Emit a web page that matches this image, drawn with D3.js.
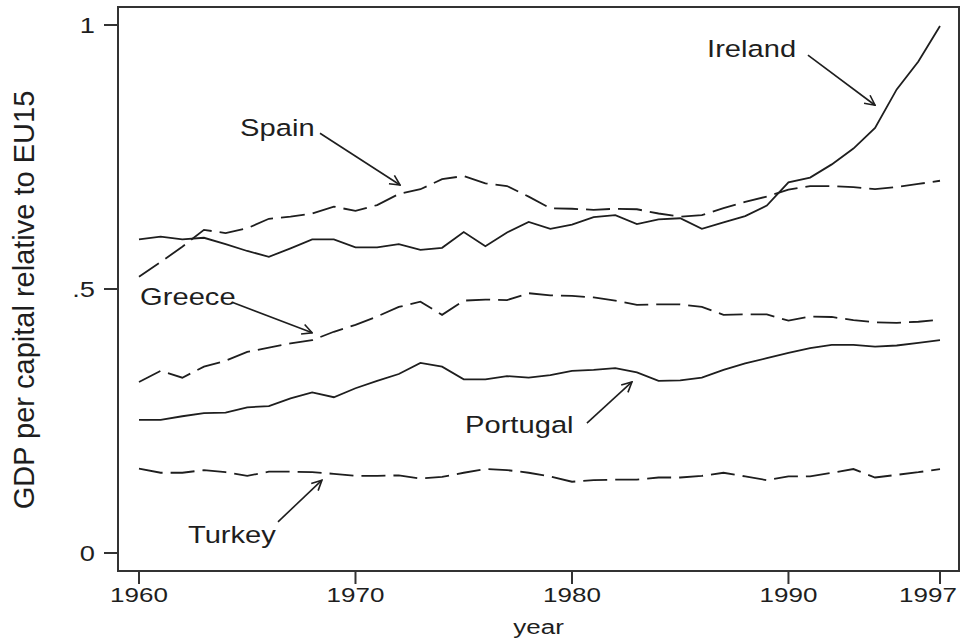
<!DOCTYPE html>
<html>
<head>
<meta charset="utf-8">
<script src="https://cdn.jsdelivr.net/npm/d3@7"></script>
<style>
  body { margin: 0; background: #fff; }
  svg { display: block; font-family: "Liberation Sans", Arial, sans-serif; }
</style>
</head>
<body>
<svg id="chart" width="965" height="640"></svg>
<script>
// years 1960..1997
const years = d3.range(1960, 1998);

const ireland = [0.594, 0.599, 0.594, 0.597, 0.585, 0.572, 0.561, 0.577, 0.594, 0.594,
  0.579, 0.579, 0.585, 0.574, 0.578, 0.608, 0.581, 0.607, 0.627, 0.614,
  0.622, 0.636, 0.640, 0.623, 0.632, 0.634, 0.614, 0.626, 0.638, 0.658,
  0.702, 0.711, 0.736, 0.766, 0.805, 0.878, 0.931, 0.998];

const spain = [0.523, 0.551, 0.580, 0.612, 0.606, 0.615, 0.633, 0.637, 0.643, 0.656,
  0.648, 0.659, 0.680, 0.689, 0.708, 0.714, 0.700, 0.695, 0.675, 0.653,
  0.652, 0.650, 0.652, 0.651, 0.643, 0.637, 0.640, 0.653, 0.665, 0.675,
  0.688, 0.695, 0.695, 0.693, 0.689, 0.693, 0.699, 0.705];

const greece = [0.324, 0.345, 0.332, 0.353, 0.364, 0.381, 0.389, 0.397, 0.403, 0.419,
  0.432, 0.448, 0.466, 0.476, 0.451, 0.478, 0.480, 0.479, 0.492, 0.488,
  0.487, 0.484, 0.478, 0.470, 0.471, 0.471, 0.466, 0.451, 0.452, 0.452,
  0.440, 0.448, 0.447, 0.441, 0.437, 0.436, 0.438, 0.442];

const portugal = [0.252, 0.252, 0.259, 0.265, 0.266, 0.276, 0.278, 0.293, 0.304, 0.295,
  0.312, 0.326, 0.339, 0.360, 0.353, 0.329, 0.329, 0.335, 0.332, 0.337,
  0.345, 0.347, 0.350, 0.342, 0.326, 0.327, 0.332, 0.347, 0.359, 0.369,
  0.379, 0.388, 0.394, 0.394, 0.391, 0.393, 0.398, 0.403];

const turkey = [0.160, 0.152, 0.152, 0.157, 0.153, 0.146, 0.154, 0.154, 0.153, 0.150,
  0.146, 0.146, 0.147, 0.141, 0.144, 0.152, 0.159, 0.157, 0.152, 0.145,
  0.135, 0.138, 0.139, 0.139, 0.143, 0.143, 0.146, 0.152, 0.145, 0.138,
  0.145, 0.145, 0.152, 0.159, 0.143, 0.148, 0.153, 0.159];

const xTicks = [1960, 1970, 1980, 1990, 1997];
const yTicks = [0, 0.5, 1];
const yTickLabels = ['0', '.5', '1'];

// label text position, arrow start, arrow tip (data units)
const labelNames = ['Ireland', 'Spain', 'Greece', 'Turkey', 'Portugal'];
const labelPos = [[1986.24, 0.939], [1964.67, 0.790], [1960.05, 0.470], [1962.26, 0.019], [1975.06, 0.227]];
const arrowFrom = [[1990.9, 0.943], [1968.36, 0.795], [1964.3, 0.475], [1966.42, 0.059], [1980.69, 0.246]];
const arrowTo = [[1994.0, 0.848], [1972.06, 0.697], [1968.0, 0.417], [1968.45, 0.138], [1982.77, 0.324]];

const seriesList = [
  { values: ireland, dashed: false },
  { values: spain, dashed: true },
  { values: greece, dashed: true },
  { values: portugal, dashed: false },
  { values: turkey, dashed: true }
];

const svg = d3.select('#chart');
const frame = { left: 118, right: 959, top: 7, bottom: 571 };
const stretch = 1.24;
const ink = '#1e1e1e';

const x = d3.scaleLinear().domain([1960, 1997]).range([139, 940]);
const y = d3.scaleLinear().domain([0, 1]).range([553, 25]);

// frame
svg.append('rect')
  .attr('x', frame.left).attr('y', frame.top)
  .attr('width', frame.right - frame.left)
  .attr('height', frame.bottom - frame.top)
  .attr('fill', 'none').attr('stroke', '#333').attr('stroke-width', 2);

// y ticks
const yAxis = svg.append('g');
yTicks.forEach((t, i) => {
  yAxis.append('line')
    .attr('x1', frame.left - 14).attr('x2', frame.left)
    .attr('y1', y(t)).attr('y2', y(t))
    .attr('stroke', '#333').attr('stroke-width', 2);
  yAxis.append('text')
    .attr('transform', `translate(95,${y(t) + 8}) scale(${stretch},1)`)
    .attr('text-anchor', 'end')
    .attr('font-size', 22)
    .attr('fill', ink)
    .text(yTickLabels[i]);
});

// x ticks
const xAxis = svg.append('g');
xTicks.forEach((t, i) => {
  xAxis.append('line')
    .attr('x1', x(t)).attr('x2', x(t))
    .attr('y1', frame.bottom).attr('y2', frame.bottom + 13)
    .attr('stroke', '#333').attr('stroke-width', 2);
  const last = i === xTicks.length - 1;
  xAxis.append('text')
    .attr('transform', `translate(${last ? frame.right - 2 : x(t)},602) scale(${stretch},1)`)
    .attr('text-anchor', last ? 'end' : 'middle')
    .attr('font-size', 21)
    .attr('fill', ink)
    .text(t);
});

// axis titles
svg.append('text')
  .attr('transform', `translate(${(frame.left + frame.right) / 2},634) scale(${stretch},1)`)
  .attr('text-anchor', 'middle')
  .attr('font-size', 21)
  .attr('fill', ink)
  .text('year');

svg.append('text')
  .attr('transform', `translate(34,300) rotate(-90)`)
  .attr('text-anchor', 'middle')
  .attr('font-size', 29)
  .attr('fill', ink)
  .text('GDP per capital relative to EU15');

// series lines
const line = d3.line()
  .x((d, i) => x(years[i]))
  .y(d => y(d));

svg.append('g').selectAll('path')
  .data(seriesList)
  .enter().append('path')
  .attr('d', d => line(d.values))
  .attr('fill', 'none')
  .attr('stroke', ink)
  .attr('stroke-width', 1.8)
  .attr('stroke-dasharray', d => d.dashed ? '24,8' : null);

// arrow head
svg.append('defs').append('marker')
  .attr('id', 'head')
  .attr('viewBox', '0 0 12 12')
  .attr('refX', 11).attr('refY', 6)
  .attr('markerWidth', 12).attr('markerHeight', 12)
  .attr('markerUnits', 'userSpaceOnUse')
  .attr('orient', 'auto')
  .append('path')
  .attr('d', 'M1,1 L11,6 L1,11')
  .attr('fill', 'none')
  .attr('stroke', ink)
  .attr('stroke-width', 1.6);

// annotations
const notes = svg.append('g');
labelNames.forEach((name, i) => {
  notes.append('text')
    .attr('transform', `translate(${x(labelPos[i][0])},${y(labelPos[i][1])}) scale(${stretch},1)`)
    .attr('font-size', 23.5)
    .attr('fill', ink)
    .text(name);
  notes.append('line')
    .attr('x1', x(arrowFrom[i][0])).attr('y1', y(arrowFrom[i][1]))
    .attr('x2', x(arrowTo[i][0])).attr('y2', y(arrowTo[i][1]))
    .attr('stroke', ink)
    .attr('stroke-width', 1.6)
    .attr('marker-end', 'url(#head)');
});
</script>
</body>
</html>
